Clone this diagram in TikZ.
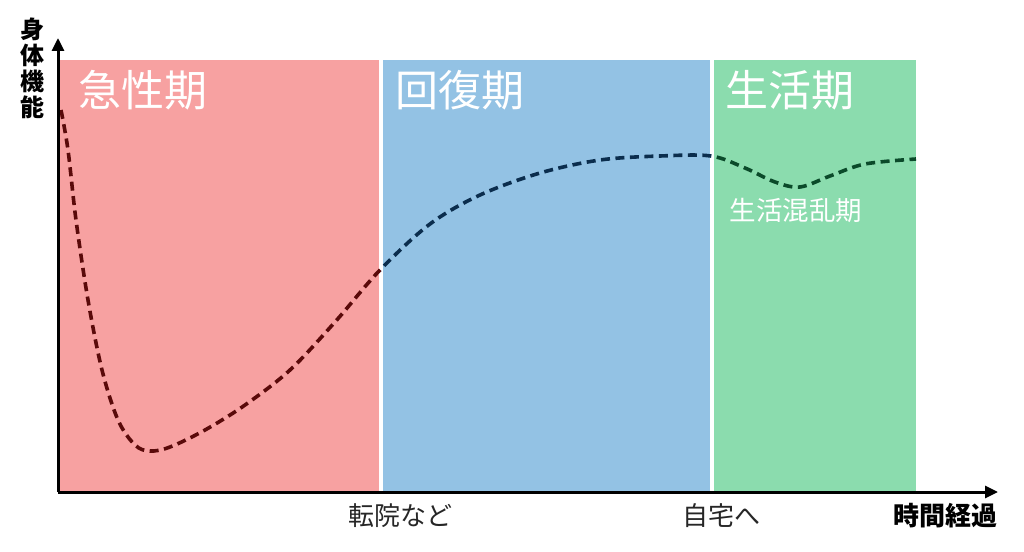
\documentclass[tikz,border=0pt]{standalone}
\usepackage{fontspec}
\newfontfamily\jp{Noto Sans CJK JP}
\newfontfamily\jpb{Noto Sans CJK JP Bold}
\usetikzlibrary{arrows.meta}
\definecolor{redbg}{HTML}{F7A1A1}
\definecolor{bluebg}{HTML}{93C2E4}
\definecolor{greenbg}{HTML}{8BDCAE}
\definecolor{redln}{HTML}{5A0A0A}
\definecolor{blueln}{HTML}{0B2D4D}
\definecolor{greenln}{HTML}{0B4A2A}
\tikzset{
  phase/.style={font=\jp\fontsize{43}{43}\selectfont, text=white, inner sep=0pt},
  tick/.style={font=\jp\fontsize{26}{26}\selectfont, text=black!85, inner sep=0pt},
  axlabel/.style={font=\jpb\bfseries\fontsize{26}{26}\selectfont, inner sep=0pt},
  vchar/.style={font=\jpb\bfseries\fontsize{24}{24}\selectfont, inner sep=0pt},
  axisline/.style={line width=3pt, -{Triangle[length=13pt,width=12pt]}},
  curve/.style={line width=3.6pt, dash pattern=on 9pt off 5.5pt}
}
\def\curvepath{plot[smooth,tension=0.55] coordinates{(61,110) (68,150) (76,220) (88,300) (102,370) (118,420) (135,445) (150,451) (170,447) (205,430) (245,405) (290,370) (335,322) (380,270) (430,224) (480,195) (540,173) (600,160) (660,156) (711,156) (745,168) (775,182) (800,187) (830,176) (865,164) (916,159)}}
\begin{document}
\begin{tikzpicture}[x=1pt,y=-1pt]
\useasboundingbox (0,0) rectangle (1024,551);
% backgrounds
\fill[redbg] (60,60) rectangle (379,492);
\fill[bluebg] (383,60) rectangle (710,492);
\fill[greenbg] (714,60) rectangle (916,492);
% phase labels
\node[phase] (acute) at (143,90) {急性期};
\node[phase] (recov) at (460,90) {回復期};
\node[phase] (life) at (790,90) {生活期};
\node[font=\jp\fontsize{26.5}{26.5}\selectfont, text=white, inner sep=0pt] (chaos) at (796,210) {生活混乱期};
% curve
\begin{scope}
\clip (55,0) rectangle (381,500);
\draw[curve, redln] \curvepath;
\end{scope}
\begin{scope}
\clip (381,0) rectangle (712,500);
\draw[curve, blueln] \curvepath;
\end{scope}
\begin{scope}
\clip (712,0) rectangle (920,500);
\draw[curve, greenln] \curvepath;
\end{scope}
% axes
\coordinate (origin) at (58,492);
\coordinate (ytip) at (58,38);
\coordinate (xtip) at (998,492);
\draw[axisline] (origin) -- (ytip);
\draw[axisline] (origin) -- (xtip);
% labels
\node[vchar] (y1) at (32,29) {身};
\node[vchar] (y2) at (32,55) {体};
\node[vchar] (y3) at (32,81) {機};
\node[vchar] (y4) at (32,107) {能};
\node[tick] (t1) at (400,516) {転院など};
\node[tick] (t2) at (721,516) {自宅へ};
\node[axlabel] (xlab) at (945,516) {時間経過};
\end{tikzpicture}
\end{document}
